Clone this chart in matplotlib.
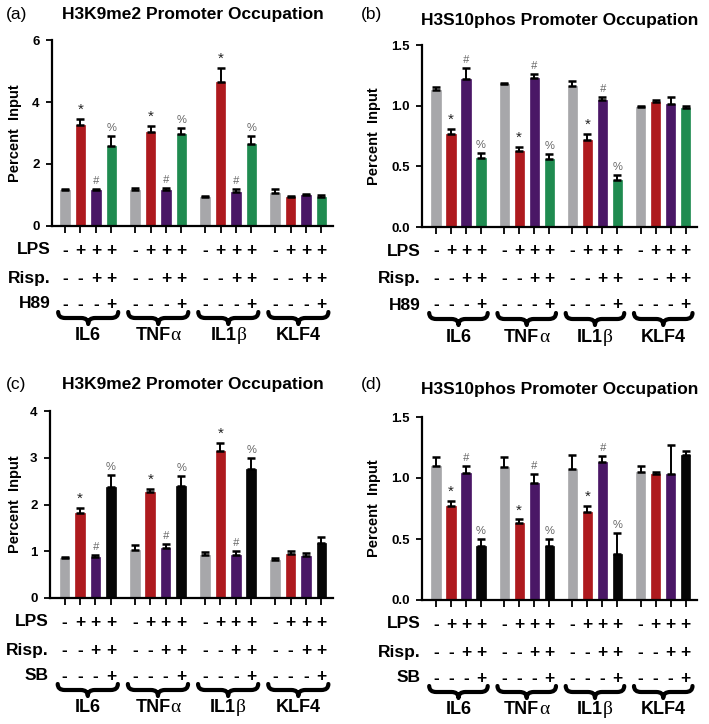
import matplotlib
matplotlib.use("Agg")
import matplotlib.pyplot as plt
import numpy as np
from matplotlib.path import Path
from matplotlib.patches import PathPatch
from matplotlib.transforms import IdentityTransform
from matplotlib.offsetbox import TextArea, HPacker, AnnotationBbox

plt.rcParams['font.family'] = ['Liberation Sans', 'DejaVu Sans']

genes = ["IL6", "TNF", "IL1", "KLF4"]
gene_greek = ["", "α", "β", ""]
conditions = ["ctrl", "LPS", "LPS+Risp", "LPS+Risp+inh"]

# panel (a) H3K9me2, H89
a_vals = [[1.15, 3.25, 1.15, 2.58], [1.17, 3.02, 1.15, 2.98], [0.95, 4.65, 1.10, 2.65], [1.08, 0.95, 1.00, 0.95]]
a_errs = [[0.04, 0.20, 0.05, 0.32], [0.04, 0.22, 0.07, 0.17], [0.03, 0.45, 0.10, 0.25], [0.10, 0.03, 0.03, 0.04]]
# panel (b) H3S10phos, H89
b_vals = [[1.13, 0.77, 1.22, 0.57], [1.18, 0.63, 1.23, 0.56], [1.16, 0.72, 1.05, 0.39], [0.99, 1.03, 1.01, 0.98]]
b_errs = [[0.02, 0.04, 0.09, 0.04], [0.01, 0.03, 0.03, 0.04], [0.04, 0.05, 0.02, 0.04], [0.01, 0.02, 0.06, 0.02]]
# panel (c) H3K9me2, SB
c_vals = [[0.85, 1.82, 0.87, 2.38], [1.02, 2.27, 1.07, 2.40], [0.93, 3.15, 0.93, 2.75], [0.82, 0.95, 0.90, 1.18]]
c_errs = [[0.03, 0.10, 0.04, 0.25], [0.12, 0.06, 0.08, 0.22], [0.05, 0.17, 0.08, 0.25], [0.04, 0.06, 0.07, 0.13]]
# panel (d) H3S10phos, SB
d_vals = [[1.10, 0.77, 1.04, 0.44], [1.09, 0.63, 0.96, 0.44], [1.07, 0.72, 1.13, 0.38], [1.05, 1.03, 1.03, 1.19]]
d_errs = [[0.07, 0.04, 0.06, 0.06], [0.08, 0.03, 0.07, 0.06], [0.12, 0.05, 0.05, 0.17], [0.05, 0.02, 0.24, 0.03]]

lps_signs = ["-", "+", "+", "+"]
risp_signs = ["-", "-", "+", "+"]
inh_signs = ["-", "-", "-", "+"]
sig_marks = ["", "*", "#", "%"]

c_gray = "#a7a7aa"
c_red = "#ae1a1e"
c_purple = "#4a1766"
c_green = "#1f8b50"
c_black = "#050505"

GROUP_STEP = 4.55

fig = plt.figure(figsize=(7.09, 7.24), dpi=100)
W, H = 709, 724


def brace(ax, x0, x1, ytop_px, height_px):
    X0 = ax.transData.transform((x0, 0))[0]
    X1 = ax.transData.transform((x1, 0))[0]
    Y0 = H - ytop_px
    Hh = height_px
    xm = (X0 + X1) / 2
    q = 7
    ym = Y0 - Hh / 2
    verts = [(X0, Y0), (X0, ym), (X0 + q, ym),
             (xm - q, ym), (xm, ym), (xm, Y0 - Hh),
             (xm, ym), (xm + q, ym),
             (X1 - q, ym), (X1, ym), (X1, Y0)]
    codes = [Path.MOVETO, Path.CURVE3, Path.CURVE3,
             Path.LINETO, Path.CURVE3, Path.CURVE3,
             Path.CURVE3, Path.CURVE3,
             Path.LINETO, Path.CURVE3, Path.CURVE3]
    p = PathPatch(Path(verts, codes), transform=IdentityTransform(), fill=False,
                  lw=3.0, color="black", capstyle="round", joinstyle="round")
    fig.add_artist(p)


def panel(rect, vals, errs, ymax, yticks, yticklabels, last_color, title, tag,
          title_xy, tag_xy, inh_label, xlim, ylabel_x):
    ax = fig.add_axes(rect)
    colors = [c_gray, c_red, c_purple, last_color]
    xs_all = []
    for g in range(4):
        xs = g * GROUP_STEP + np.arange(4)
        xs_all.extend(xs)
        for i in range(4):
            ax.bar(xs[i], vals[g][i], width=0.62, color=colors[i],
                   edgecolor=colors[i], linewidth=0.5, zorder=2)
            ax.errorbar(xs[i], vals[g][i], yerr=[[0], [errs[g][i]]], fmt="none",
                        ecolor="black", elinewidth=1.4, capsize=3, capthick=1.8, zorder=3)
            if g < 3 and sig_marks[i]:
                top = vals[g][i] + errs[g][i]
                mcol = "#222222" if i == 1 else "#666666"
                style = "italic" if i == 2 else "normal"
                ax.annotate(sig_marks[i], (xs[i], top), xytext=(0, 2 if i == 1 else 3),
                            textcoords="offset pixels", ha="center", va="bottom",
                            fontsize=8 if i != 1 else 11, color=mcol, fontstyle=style)
    ax.set_xlim(*xlim)
    ax.set_ylim(0, ymax)
    ax.set_yticks(yticks)
    ax.set_yticklabels(yticklabels, fontsize=9.5, fontweight="bold")
    ax.set_xticks(xs_all)
    ax.set_xticklabels([])
    ax.tick_params(axis="both", direction="out", length=4, width=1.3, pad=5)
    ax.tick_params(axis="x", length=5)
    for s in ["top", "right"]:
        ax.spines[s].set_visible(False)
    for s in ["left", "bottom"]:
        ax.spines[s].set_linewidth(1.6)
    # y label
    fig.text(ylabel_x / W, rect[1] + rect[3] / 2,
             "Percent  Input", rotation=90, ha="center", va="center",
             fontsize=10.5, fontweight="bold")
    # titles
    fig.text(title_xy[0] / W, 1 - title_xy[1] / H, title, ha="center", va="center",
             fontsize=12.5, fontweight="bold")
    fig.text(tag_xy[0] / W, 1 - tag_xy[1] / H, tag, ha="left", va="center", fontsize=12.5)
    # sign rows
    rows = [("LPS", lps_signs, -24), ("Risp.", risp_signs, -52), (inh_label, inh_signs, -78)]
    for lab, signs, off in rows:
        ax.annotate(lab, (xlim[0], 0), xycoords=("data", "axes fraction"),
                    xytext=(-1, off), textcoords="offset pixels", ha="right", va="center",
                    fontsize=12.5, fontweight="bold")
        for g in range(4):
            xs = g * GROUP_STEP + np.arange(4)
            for i in range(4):
                ax.annotate(signs[i], (xs[i], 0), xycoords=("data", "axes fraction"),
                            xytext=(0, off), textcoords="offset pixels", ha="center",
                            va="center", fontsize=12.5, fontweight="bold")
    # braces and group labels
    ybot_px = H * (1 - rect[1])
    for g in range(4):
        xs = g * GROUP_STEP + np.arange(4)
        brace(ax, xs[0] - 0.45, xs[-1] + 0.45, ybot_px + 86, 12)
        parts = [TextArea(genes[g], textprops=dict(fontsize=13, fontweight="bold",
                                                    family="Liberation Sans"))]
        if gene_greek[g]:
            parts.append(TextArea(gene_greek[g], textprops=dict(fontsize=14,
                                                                 family="Liberation Serif")))
        box = HPacker(children=parts, align="baseline", pad=0, sep=0)
        ab = AnnotationBbox(box, (xs.mean(), 0), xycoords=("data", "axes fraction"),
                            xybox=(0, -110), boxcoords="offset pixels", frameon=False,
                            box_alignment=(0.5, 0.5), annotation_clip=False)
        ax.add_artist(ab)
    return ax


def rect_px(l, r, top, bot):
    return [l / W, 1 - bot / H, (r - l) / W, (bot - top) / H]


panel(rect_px(52, 333, 40, 226), a_vals, a_errs, 6, [0, 2, 4, 6], ["0", "2", "4", "6"],
      c_green, "H3K9me2 Promoter Occupation", "(a)", (193, 15), (6, 15), "H89",
      (-0.85, 17.4), 15)
panel(rect_px(422, 697, 45, 227), b_vals, b_errs, 1.5, [0, 0.5, 1.0, 1.5],
      ["0.0", "0.5", "1.0", "1.5"], c_green, "H3S10phos Promoter Occupation", "(b)",
      (560, 20), (361, 14), "H89", (-0.93, 17.4), 374)
panel(rect_px(50, 333, 411, 598), c_vals, c_errs, 4, [0, 1, 2, 3, 4],
      ["0", "1", "2", "3", "4"], c_black, "H3K9me2 Promoter Occupation", "(c)",
      (193, 385), (6, 385), "SB", (-0.95, 17.4), 15)
panel(rect_px(422, 697, 417, 600), d_vals, d_errs, 1.5, [0, 0.5, 1.0, 1.5],
      ["0.0", "0.5", "1.0", "1.5"], c_black, "H3S10phos Promoter Occupation", "(d)",
      (560, 389), (361, 385), "SB", (-0.93, 17.4), 374)

fig.savefig("out.png", dpi=100)
